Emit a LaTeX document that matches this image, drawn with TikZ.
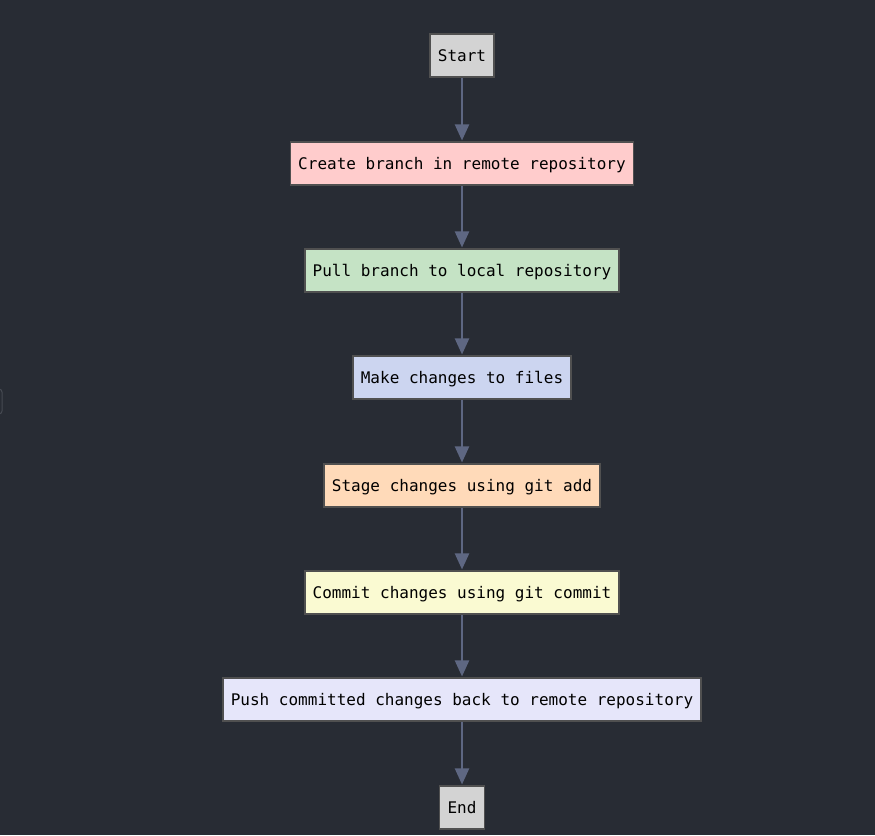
\documentclass[tikz,border=0pt]{standalone}
\usepackage{fontspec}
\setmonofont{DejaVu Sans Mono}
\usetikzlibrary{arrows.meta}
\definecolor{bg}{HTML}{282C34}
\definecolor{arrowc}{HTML}{5E6782}
\definecolor{edgec}{HTML}{505050}
\definecolor{sidec}{HTML}{464A52}
\definecolor{grayfill}{HTML}{D3D3D3}
\definecolor{redfill}{HTML}{FFCCCC}
\definecolor{greenfill}{HTML}{C5E3C5}
\definecolor{bluefill}{HTML}{CCD5F0}
\definecolor{peachfill}{HTML}{FFDAB9}
\definecolor{yellowfill}{HTML}{FAFAD2}
\definecolor{lavfill}{HTML}{E6E6FA}
\tikzset{
  flowbox/.style={draw=edgec, line width=1.1pt, minimum height=43pt, inner sep=0pt,
    text height=13pt, text depth=1pt,
    font=\fontsize{16}{18}\ttfamily, text=black},
  flowarrow/.style={draw=arrowc, line width=2.2pt, -{Triangle[length=16pt,width=14pt]}, shorten >=1pt}
}
\begin{document}
\begin{tikzpicture}[x=1pt,y=-1pt]
\fill[bg] (0,0) rectangle (875,835);
\useasboundingbox (0,0) rectangle (875,835);
\draw[draw=sidec, line width=1pt, rounded corners=3pt] (-10,389) rectangle (2,414);
\node[flowbox, fill=grayfill, minimum width=64pt] (start) at (462,55.5) {Start};
\node[flowbox, fill=redfill, minimum width=343pt] (create) at (462,163.5) {Create branch in remote repository};
\node[flowbox, fill=greenfill, minimum width=314pt] (pull) at (462,270.5) {Pull branch to local repository};
\node[flowbox, fill=bluefill, minimum width=218pt] (make) at (462,377.5) {Make changes to files};
\node[flowbox, fill=peachfill, minimum width=276pt] (stage) at (462,485.5) {Stage changes using git add};
\node[flowbox, fill=yellowfill, minimum width=314pt] (commit) at (462,592.5) {Commit changes using git commit};
\node[flowbox, fill=lavfill, minimum width=478pt] (push) at (462,699.5) {Push committed changes back to remote repository};
\node[flowbox, fill=grayfill, minimum width=45pt] (end) at (462,807.5) {End};
\draw[flowarrow] (start.south) -- (create.north);
\draw[flowarrow] (create.south) -- (pull.north);
\draw[flowarrow] (pull.south) -- (make.north);
\draw[flowarrow] (make.south) -- (stage.north);
\draw[flowarrow] (stage.south) -- (commit.north);
\draw[flowarrow] (commit.south) -- (push.north);
\draw[flowarrow] (push.south) -- (end.north);
\end{tikzpicture}
\end{document}
